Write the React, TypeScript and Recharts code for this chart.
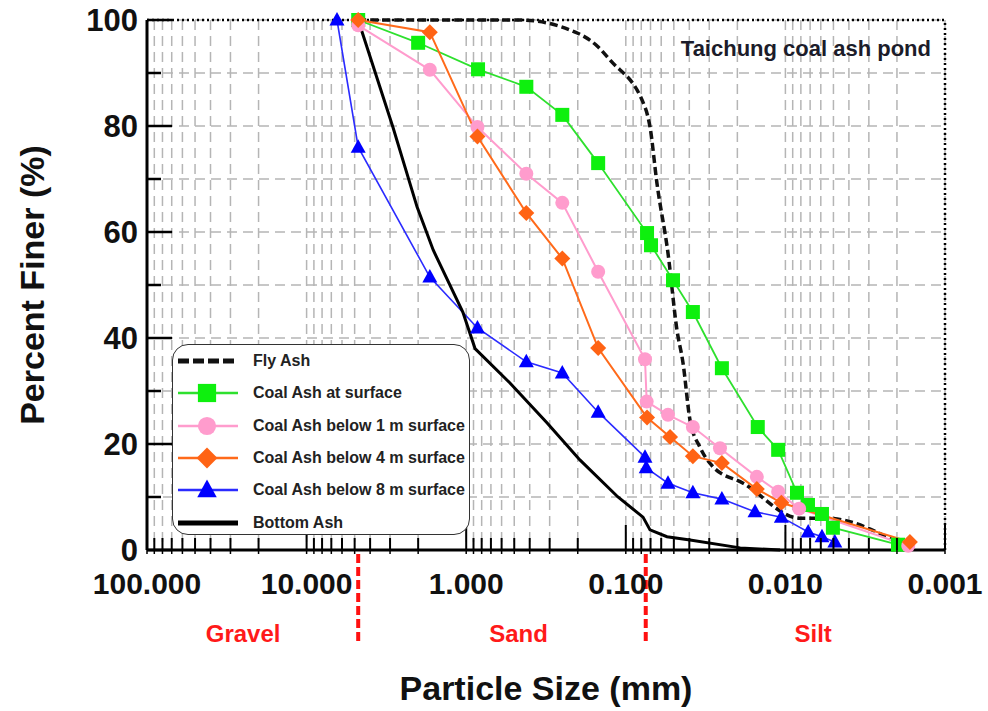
import React from 'react';
import { LineChart, Line, XAxis, YAxis, CartesianGrid, ReferenceLine, Legend } from 'recharts';

const W = 988;
const H = 711;
const FONT = '"Liberation Sans", Arial, sans-serif';

// particle size (mm) / percent finer (%)
const flyAshSize = [4.75, 0.46, 0.2, 0.15, 0.126, 0.0755, 0.0705, 0.0638, 0.0544, 0.0478, 0.0438, 0.0396, 0.0343, 0.0284, 0.0184, 0.0081, 0.0055, 0.002];
const flyAshPct = [100, 100, 97.5, 95, 92.5, 83.4, 79.8, 69.2, 56, 41.5, 35.3, 24.5, 19.4, 15.7, 12.6, 6, 6, 1.5];

const surfaceSize = [4.75, 2.0, 0.843, 0.42, 0.25, 0.149, 0.0736, 0.0695, 0.0506, 0.038, 0.025, 0.0149, 0.0111, 0.00846, 0.00722, 0.0059, 0.00504, 0.00197];
const surfacePct = [100, 95.7, 90.7, 87.4, 82.1, 73, 59.8, 57.5, 50.9, 44.9, 34.3, 23.2, 18.9, 10.8, 8.5, 6.8, 4.2, 1.0];

const below1Size = [4.75, 1.69, 0.85, 0.42, 0.25, 0.149, 0.0758, 0.074, 0.0544, 0.038, 0.0257, 0.0151, 0.0111, 0.0082, 0.0017];
const below1Pct = [99, 90.6, 79.8, 71, 65.5, 52.5, 36, 28, 25.5, 23.2, 19.2, 13.8, 11, 7.8, 0.8];

const below4Size = [4.75, 1.69, 0.85, 0.42, 0.25, 0.149, 0.0736, 0.0528, 0.038, 0.025, 0.0151, 0.0106, 0.00166];
const below4Pct = [100, 97.7, 78, 63.6, 55, 38.1, 25, 21.3, 17.7, 16.4, 11.5, 8.9, 1.5];

const below8Size = [6.45, 4.75, 1.69, 0.85, 0.42, 0.25, 0.149, 0.0758, 0.0745, 0.0544, 0.038, 0.025, 0.0155, 0.0106, 0.0072, 0.0059, 0.0049];
const below8Pct = [100, 76, 51.5, 41.9, 35.5, 33.4, 26, 17.5, 15.5, 12.6, 10.8, 9.6, 7.2, 6.2, 3.4, 2.5, 1.5];

const bottomSize = [4.75, 2.88, 2.03, 1.61, 1.05, 0.88, 0.532, 0.312, 0.194, 0.112, 0.078, 0.0705, 0.0552, 0.0396, 0.0192, 0.0108];
const bottomPct = [100, 79.8, 64.7, 56.6, 44.9, 38, 31.5, 24, 17, 10, 6.2, 3.8, 2.5, 1.9, 0.4, 0];

// axes
const xMajorTicks = [100, 10, 1, 0.1, 0.01, 0.001];
const xTickLabels = ['100.000', '10.000', '1.000', '0.100', '0.010', '0.001'];
const xMinorSteps = [2, 3, 4, 5, 6, 7, 8, 9];
const yTicks = [0, 10, 20, 30, 40, 50, 60, 70, 80, 90, 100];
const yTickLabels = ['0', '', '20', '', '40', '', '60', '', '80', '', '100'];

// soil classes
const zoneBounds = [4.75, 0.075];
const zoneNames = ['Gravel', 'Sand', 'Silt'];
const zoneAt = [25, 0.47, 0.0067];

const xTicks: number[] = [];
xMajorTicks.forEach((d) => {
  xTicks.push(d);
  if (d > 0.001) xMinorSteps.forEach((m) => xTicks.push(+(m * d / 10).toPrecision(6)));
});

const majorIndex = (v: number) =>
  xMajorTicks.findIndex((t) => Math.abs(Math.log10(t) - Math.log10(v)) < 1e-6);

const zip = (s: number[], p: number[]) => s.map((size, i) => ({ size, pct: p[i] }));

type Shape = 'square' | 'circle' | 'diamond' | 'triangle' | 'none';

const Marker = ({ shape, cx, cy, color, k = 1 }: { shape: Shape; cx: number; cy: number; color: string; k?: number }) => {
  if (shape === 'square') return <rect x={cx - 7 * k} y={cy - 7 * k} width={14 * k} height={14 * k} fill={color} />;
  if (shape === 'circle') return <circle cx={cx} cy={cy} r={7 * k} fill={color} />;
  if (shape === 'diamond')
    return <polygon points={`${cx},${cy - 8 * k} ${cx + 8 * k},${cy} ${cx},${cy + 8 * k} ${cx - 8 * k},${cy}`} fill={color} />;
  if (shape === 'triangle')
    return <polygon points={`${cx},${cy - 8 * k} ${cx + 7.5 * k},${cy + 5.5 * k} ${cx - 7.5 * k},${cy + 5.5 * k}`} fill={color} />;
  return null;
};

const series = [
  { name: 'Fly Ash', data: zip(flyAshSize, flyAshPct), stroke: '#111', width: 3.5, dash: '8 4', shape: 'none' as Shape, fill: '#000', type: 'monotone' },
  { name: 'Coal Ash at surface', data: zip(surfaceSize, surfacePct), stroke: '#2ee02e', width: 1.8, dash: undefined, shape: 'square' as Shape, fill: '#0ef00e', type: 'linear' },
  { name: 'Coal Ash below 1 m surface', data: zip(below1Size, below1Pct), stroke: '#ff9ccd', width: 2, dash: undefined, shape: 'circle' as Shape, fill: '#ff9ccd', type: 'linear' },
  { name: 'Coal Ash below 4 m surface', data: zip(below4Size, below4Pct), stroke: '#ff6a1a', width: 2, dash: undefined, shape: 'diamond' as Shape, fill: '#ff6314', type: 'linear' },
  { name: 'Coal Ash below 8 m surface', data: zip(below8Size, below8Pct), stroke: '#2b2bff', width: 1.6, dash: undefined, shape: 'triangle' as Shape, fill: '#0000ff', type: 'linear' },
  { name: 'Bottom Ash', data: zip(bottomSize, bottomPct), stroke: '#000', width: 3, dash: undefined, shape: 'none' as Shape, fill: '#000', type: 'linear' },
];

const XTick = (props: any) => {
  const { x, y, payload } = props;
  const mi = majorIndex(payload.value);
  return (
    <g>
      <line x1={x} x2={x} y1={y} y2={y - (mi >= 0 ? 25 : 12)} stroke="#000" strokeWidth={2} />
      <line x1={x} x2={x} y1={y} y2={y + 4} stroke="#000" strokeWidth={1.5} />
      {mi >= 0 && (
        <text x={x} y={y + 44} textAnchor="middle" fontSize={30} fontWeight="bold" fontFamily={FONT} fill="#111">
          {xTickLabels[mi]}
        </text>
      )}
    </g>
  );
};

const YTick = (props: any) => {
  const { x, y, payload } = props;
  const i = yTicks.indexOf(payload.value);
  const label = yTickLabels[i];
  return (
    <g>
      <line x1={x} x2={x + (label ? 25 : 14)} y1={y} y2={y} stroke="#000" strokeWidth={2.5} />
      {label && (
        <text x={x - 9} y={y} dy="0.36em" textAnchor="end" fontSize={31} fontWeight="bold" fontFamily={FONT} fill="#111">
          {label}
        </text>
      )}
    </g>
  );
};

const LegendBox = () => (
  <div
    style={{
      position: 'relative',
      width: 298,
      height: 191,
      boxSizing: 'border-box',
      border: '1.5px solid #333',
      borderRadius: 16,
      background: '#fff',
    }}
  >
    {series.map((s, i) => (
      <div key={s.name} style={{ position: 'absolute', left: 3, top: 5 + i * 32.3, height: 22, display: 'flex', alignItems: 'center' }}>
        <svg width={64} height={22}>
          <line
            x1={2}
            x2={62}
            y1={11}
            y2={11}
            stroke={s.stroke}
            strokeWidth={s.shape === 'none' ? 5 : 2.5}
            strokeDasharray={s.dash ? '11 4' : undefined}
          />
          <Marker shape={s.shape} cx={31} cy={11} color={s.fill} k={1.3} />
        </svg>
        <span style={{ marginLeft: 13, fontFamily: FONT, fontWeight: 'bold', fontSize: 16, color: '#222', whiteSpace: 'nowrap' }}>
          {s.name}
        </span>
      </div>
    ))}
  </div>
);

export default function App() {
  return (
    <div style={{ position: 'absolute', left: 0, top: 0, width: W, height: H, background: '#fff' }}>
      <LineChart width={W} height={H} margin={{ top: 20, right: 43, left: 0, bottom: 0 }}>
        <CartesianGrid stroke="#b5b5b5" strokeWidth={1.5} strokeDasharray="10 6" />
        <XAxis
          type="number"
          dataKey="size"
          scale="log"
          domain={[0.001, 100]}
          reversed
          allowDataOverflow
          ticks={xTicks}
          interval={0}
          tickSize={0}
          tickMargin={0}
          tickLine={false}
          height={161}
          tick={XTick}
          axisLine={{ stroke: '#000', strokeWidth: 3 }}
          label={(p: any) => {
            const vb = p.viewBox || { x: 147, y: 550, width: 798 };
            return (
              <text x={vb.x + vb.width / 2} y={vb.y + 150} textAnchor="middle" fontSize={34} fontWeight="bold" fontFamily={FONT} fill="#111">
                Particle Size (mm)
              </text>
            );
          }}
        />
        <YAxis
          type="number"
          domain={[0, 100]}
          ticks={yTicks}
          interval={0}
          width={147}
          tickSize={0}
          tickMargin={0}
          tickLine={false}
          tick={YTick}
          axisLine={{ stroke: '#000', strokeWidth: 3 }}
          label={(p: any) => {
            const vb = p.viewBox || { x: 0, y: 20, height: 530 };
            const cy = vb.y + vb.height / 2;
            return (
              <text
                x={32}
                y={cy}
                transform={`rotate(-90 32 ${cy})`}
                textAnchor="middle"
                dominantBaseline="central"
                fontSize={34}
                fontWeight="bold"
                fontFamily={FONT}
                fill="#111"
              >
                Percent Finer (%)
              </text>
            );
          }}
        />
        <ReferenceLine
          y={100}
          stroke="#000"
          strokeWidth={2.5}
          strokeDasharray="2 3"
          label={(p: any) => {
            const vb = p.viewBox || { x: 147, y: 20, width: 798 };
            return (
              <text x={vb.x + vb.width - 14} y={vb.y + 36} textAnchor="end" fontSize={22} fontWeight="bold" fontFamily={FONT} fill="#1c1c2a">
                Taichung coal ash pond
              </text>
            );
          }}
        />
        <ReferenceLine x={0.001} stroke="#000" strokeWidth={2.5} strokeDasharray="2 3" />
        {zoneBounds.map((b) => (
          <ReferenceLine
            key={`b${b}`}
            x={b}
            stroke="none"
            label={(p: any) => {
              const vb = p.viewBox;
              if (!vb) return null;
              const y0 = vb.y + vb.height;
              return <line x1={vb.x} x2={vb.x} y1={y0 + 4} y2={y0 + 95} stroke="#ff1010" strokeWidth={4} strokeDasharray="9 4" />;
            }}
          />
        ))}
        {zoneNames.map((n, i) => (
          <ReferenceLine
            key={n}
            x={zoneAt[i]}
            stroke="none"
            label={(p: any) => {
              const vb = p.viewBox;
              if (!vb) return null;
              return (
                <text x={vb.x} y={vb.y + vb.height + 92} textAnchor="middle" fontSize={24} fontWeight="bold" fontFamily={FONT} fill="#ff1a1a">
                  {n}
                </text>
              );
            }}
          />
        ))}
        {series.map((s) => (
          <Line
            key={s.name}
            name={s.name}
            data={s.data}
            dataKey="pct"
            type={s.type as any}
            stroke={s.stroke}
            strokeWidth={s.width}
            strokeDasharray={s.dash}
            isAnimationActive={false}
            dot={
              s.shape === 'none'
                ? false
                : (d: any) => (
                    <Marker key={`${s.name}-${d.index}`} shape={s.shape} cx={d.cx} cy={d.cy} color={s.fill} />
                  )
            }
            activeDot={false}
          />
        ))}
        <Legend
          layout="horizontal"
          verticalAlign="middle"
          align="center"
          wrapperStyle={{ left: 172, top: 344, width: 298, height: 191 }}
          content={() => <LegendBox />}
        />
      </LineChart>
    </div>
  );
}
